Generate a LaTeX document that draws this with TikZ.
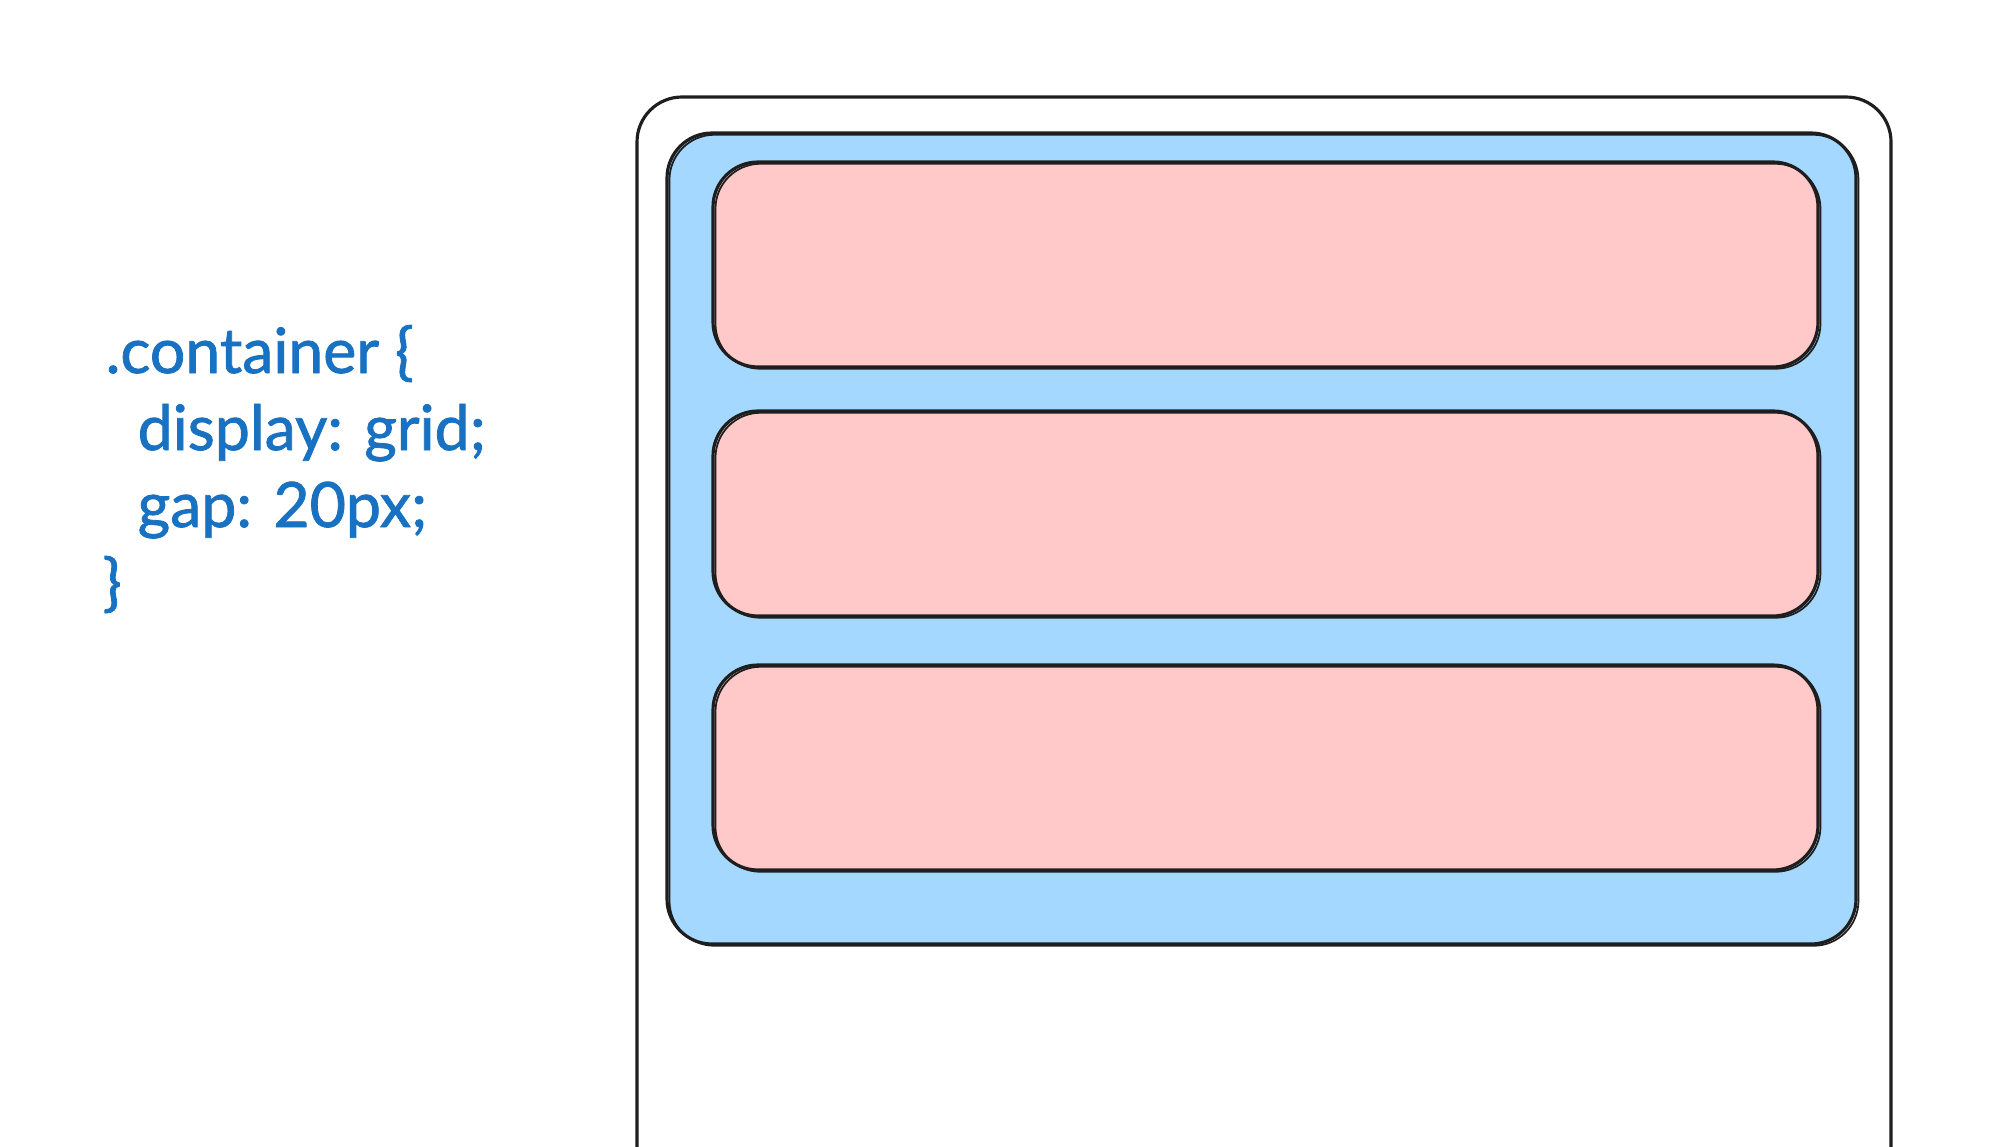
\documentclass[tikz,border=0pt]{standalone}
\usepackage{fontspec}
\setmainfont{Lato}
\newfontfamily\codefont[FakeBold=1.3]{Lato}
\usetikzlibrary{positioning}
\definecolor{ink}{HTML}{1E1E1E}
\definecolor{codeblue}{HTML}{1971C2}
\definecolor{gridblue}{HTML}{A5D8FF}
\definecolor{itempink}{HTML}{FFC9C9}
\tikzset{
	sketch/.style={draw=ink, line width=0.9pt, rounded corners=0.45cm,
		postaction={draw=ink, line width=0.5pt, transform canvas={shift={(0.7pt,-0.5pt)}}}},
	gridbox/.style={sketch, fill=gridblue, inner sep=0pt, outer sep=0pt,
		minimum width=11.89cm, minimum height=8.11cm},
	itembox/.style={sketch, fill=itempink, inner sep=0pt, outer sep=0pt,
		minimum width=11.05cm, minimum height=2.05cm},
	codeline/.style={anchor=base west, inner sep=0pt, text=codeblue,
		font=\codefont\fontsize{17.8}{21.9}\selectfont},
}
\begin{document}
\begin{tikzpicture}
	\useasboundingbox (0,0) rectangle (20.04,-11.46);

	% css snippet
	\node[codeline] (c1) at (1.05,-3.73) {.container \{};
	\node[codeline] (c2) at (1.37,-4.50) {display: grid;};
	\node[codeline] (c3) at (1.37,-5.27) {gap: 20px;};
	\node[codeline] (c4) at (1.02,-6.04) {\}};

	% page frame, open at the bottom
	\draw[ink, line width=0.9pt, rounded corners=0.45cm]
		(6.37,-11.6) -- (6.37,-0.97) -- (18.91,-0.97) -- (18.91,-11.6);

	% grid container and its rows
	\node[gridbox] (grid) at (12.615,-5.385) {};
	\node[itembox] (row1) at (12.655,-2.645) {};
	\node[itembox, below=0.44cm of row1] (row2) {};
	\node[itembox, below=0.49cm of row2] (row3) {};
\end{tikzpicture}
\end{document}
